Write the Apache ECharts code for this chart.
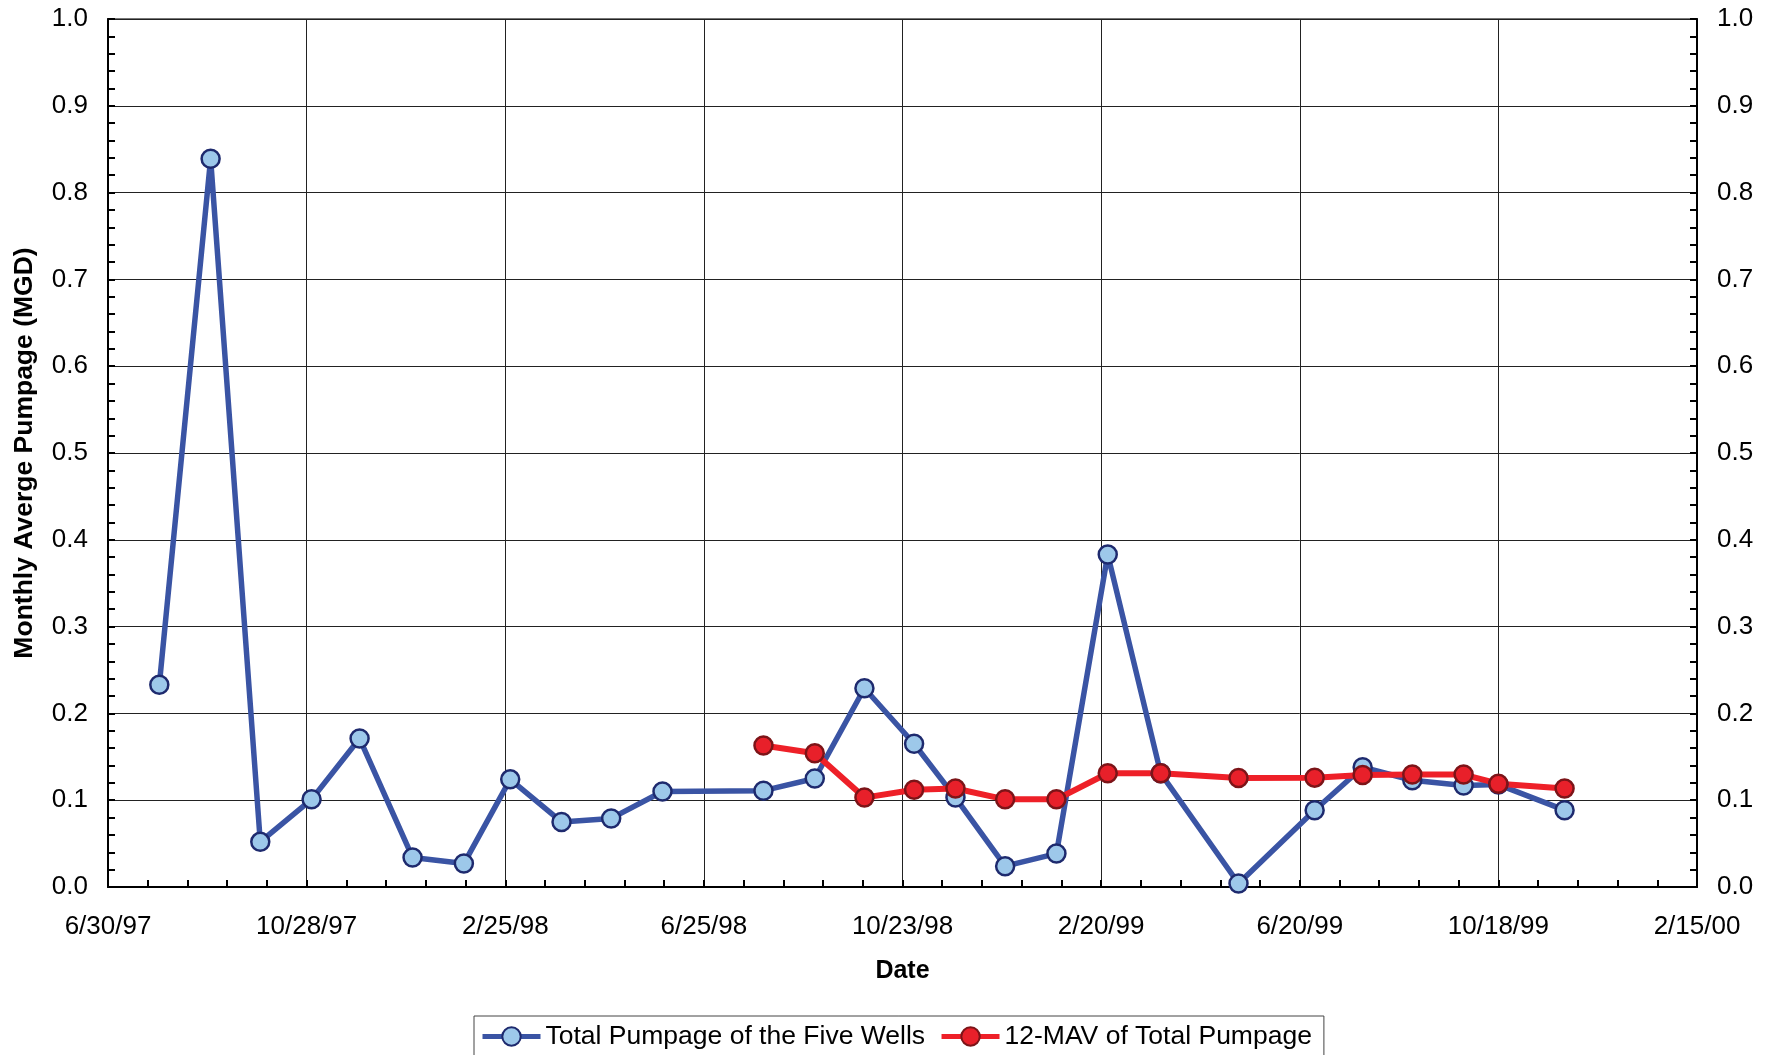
<!DOCTYPE html>
<html><head><meta charset="utf-8">
<script src="https://cdn.jsdelivr.net/npm/echarts@6/dist/echarts.min.js"></script>
<style>html,body{margin:0;padding:0;background:#fff;}#c{width:1772px;height:1055px;}</style>
</head><body><div id="c"></div>
<script>
// ---- data ----
const totalDates = ['1997-07-31','1997-08-31','1997-09-30','1997-10-31','1997-11-29','1997-12-31',
  '1998-01-31','1998-02-28','1998-03-31','1998-04-30','1998-05-31','1998-07-31','1998-08-31',
  '1998-09-30','1998-10-30','1998-11-24','1998-12-24','1999-01-24','1999-02-24','1999-03-28',
  '1999-05-14','1999-06-29','1999-07-28','1999-08-27','1999-09-27','1999-10-18','1999-11-27'];
const totalValues = [0.233,0.839,0.052,0.101,0.171,0.034,0.027,0.124,0.075,0.079,0.110,0.111,0.125,
  0.229,0.165,0.103,0.024,0.0385,0.383,0.131,0.004,0.0885,0.138,0.123,0.117,0.118,0.0885];
const mavDates = ['1998-07-31','1998-08-31','1998-09-30','1998-10-30','1998-11-24','1998-12-24',
  '1999-01-24','1999-02-24','1999-03-28','1999-05-14','1999-06-29','1999-07-28','1999-08-27',
  '1999-09-27','1999-10-18','1999-11-27'];
const mavValues = [0.163,0.154,0.103,0.112,0.1135,0.101,0.101,0.131,0.131,0.1255,0.126,0.129,0.1295,
  0.1295,0.119,0.1135];
const xTickLabels = ['6/30/97','10/28/97','2/25/98','6/25/98','10/23/98','2/20/99','6/20/99','10/18/99','2/15/00'];
const yTickLabels = ['0.0','0.1','0.2','0.3','0.4','0.5','0.6','0.7','0.8','0.9','1.0'];
const seriesNames = ['Total Pumpage of the Five Wells','12-MAV of Total Pumpage'];

// ---- helpers ----
const ORIGIN = Date.UTC(1997,5,30);
const DAY = 86400000;
function dayNum(s){const p=s.split('-').map(Number);return Math.round((Date.UTC(p[0],p[1]-1,p[2])-ORIGIN)/DAY);}
const totalData = totalDates.map((d,i)=>[dayNum(d),totalValues[i]]);
const mavData = mavDates.map((d,i)=>[dayNum(d),mavValues[i]]);

const FONT = 'Liberation Sans, Arial, sans-serif';
const tickCommon = {show:true,inside:true,length:7,lineStyle:{color:'#000',width:2}};
const minorCommon = {show:true,splitNumber:5,length:7,lineStyle:{color:'#000',width:2}};

const chart = echarts.init(document.getElementById('c'),null,{renderer:'canvas'});
chart.setOption({
  animation:false,
  backgroundColor:'#fff',
  grid:{left:108,top:19,width:1589,height:868,show:true,borderColor:'#777',borderWidth:2,
        containLabel:false,outerBoundsMode:'none'},
  legend:{
    left:474, top:1016, orient:'horizontal',
    padding:[7,12,14,6],
    borderColor:'#444', borderWidth:1,
    itemWidth:58, itemHeight:23, itemGap:14,
    lineStyle:{width:5},
    textStyle:{fontFamily:FONT,fontSize:26.5,color:'#000'},
    data:seriesNames
  },
  xAxis:{
    type:'value', min:0, max:960, interval:120,
    name:'Date', nameLocation:'middle', nameGap:72,
    nameTextStyle:{fontFamily:FONT,fontSize:25,fontWeight:'bold',color:'#000'},
    axisLine:{show:true,onZero:false,lineStyle:{color:'#000',width:2}},
    axisTick:tickCommon, minorTick:minorCommon,
    axisLabel:{margin:27,fontFamily:FONT,fontSize:26,color:'#000',
      formatter:v=>xTickLabels[Math.round(v/120)]||''},
    splitLine:{show:true,lineStyle:{color:'#222',width:1}},
    minorSplitLine:{show:false}
  },
  yAxis:[{
    type:'value', min:0, max:1, interval:0.1, position:'left',
    name:'Monthly Averge Pumpage (MGD)', nameLocation:'middle', nameGap:70, nameRotate:90,
    nameTextStyle:{fontFamily:FONT,fontSize:26.5,fontWeight:'bold',color:'#000'},
    axisLine:{show:true,onZero:false,lineStyle:{color:'#000',width:2}},
    axisTick:tickCommon, minorTick:minorCommon,
    axisLabel:{margin:20,fontFamily:FONT,fontSize:26,color:'#000',
      formatter:v=>yTickLabels[Math.round(v*10)]},
    splitLine:{show:true,lineStyle:{color:'#222',width:1}}
  },{
    type:'value', min:0, max:1, interval:0.1, position:'right',
    axisLine:{show:true,onZero:false,lineStyle:{color:'#000',width:2}},
    axisTick:tickCommon, minorTick:minorCommon,
    axisLabel:{margin:20,fontFamily:FONT,fontSize:26,color:'#000',
      formatter:v=>yTickLabels[Math.round(v*10)]},
    splitLine:{show:false}
  }],
  series:[{
    name:seriesNames[0], type:'line', data:totalData, yAxisIndex:0,
    symbol:'circle', symbolSize:18, showAllSymbol:true,
    lineStyle:{color:'#3a54a4',width:5.5},
    itemStyle:{color:'#9dc8ea',borderColor:'#1e2a6e',borderWidth:2.5}
  },{
    name:seriesNames[1], type:'line', data:mavData, yAxisIndex:0,
    symbol:'circle', symbolSize:18, showAllSymbol:true,
    lineStyle:{color:'#ee2028',width:6},
    itemStyle:{color:'#e8202a',borderColor:'#7c1418',borderWidth:2.5}
  }]
});
</script></body></html>
